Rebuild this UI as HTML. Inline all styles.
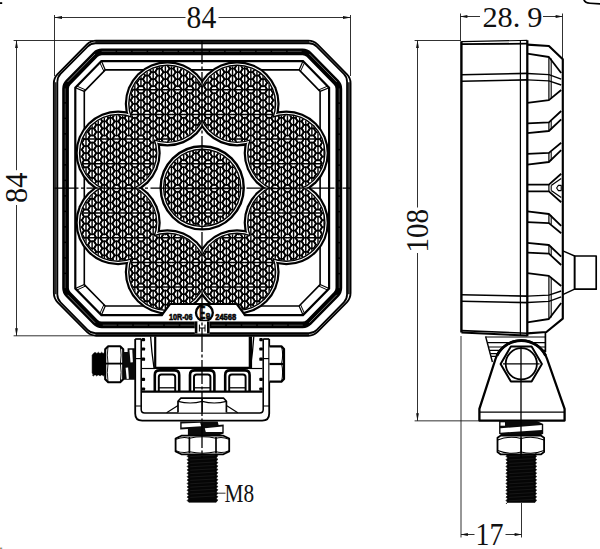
<!DOCTYPE html>
<html lang="en"><head><meta charset="utf-8"><title>LED work light 84 x 84 x 28.9 dimension drawing</title>
<style>html,body{margin:0;padding:0;background:#fff;overflow:hidden}svg{display:block}text{font-family:"Liberation Serif","DejaVu Serif",serif;fill:#111;stroke:none}.b{font-family:"Liberation Sans","DejaVu Sans",sans-serif;font-weight:bold;stroke:#000;stroke-width:.6px}</style></head><body>
<svg width="600" height="549" viewBox="0 0 600 549" fill="none" stroke="#000" stroke-linecap="butt" stroke-linejoin="round">
<rect x="0" y="0" width="600" height="549" fill="#fff" stroke="none"/>
<defs>
<path id="hc" d="M-4.07 0 L-2.04 -3.52 L2.04 -3.52 L4.07 0 L2.04 3.52 L-2.04 3.52ZM-4.07 7.05 L-2.04 3.52 L2.04 3.52 L4.07 7.05 L2.04 10.57 L-2.04 10.57ZM-4.07 14.1 L-2.04 10.57 L2.04 10.57 L4.07 14.1 L2.04 17.62 L-2.04 17.62ZM-4.07 21.15 L-2.04 17.62 L2.04 17.62 L4.07 21.15 L2.04 24.67 L-2.04 24.67ZM-4.07 28.2 L-2.04 24.68 L2.04 24.68 L4.07 28.2 L2.04 31.72 L-2.04 31.72ZM-4.07 35.25 L-2.04 31.73 L2.04 31.73 L4.07 35.25 L2.04 38.77 L-2.04 38.77ZM-4.07 42.3 L-2.04 38.77 L2.04 38.77 L4.07 42.3 L2.04 45.82 L-2.04 45.82ZM-4.07 49.35 L-2.04 45.83 L2.04 45.83 L4.07 49.35 L2.04 52.88 L-2.04 52.88ZM-4.07 56.4 L-2.04 52.88 L2.04 52.88 L4.07 56.4 L2.04 59.92 L-2.04 59.92ZM-4.07 63.45 L-2.04 59.92 L2.04 59.92 L4.07 63.45 L2.04 66.97 L-2.04 66.97ZM-4.07 70.5 L-2.04 66.97 L2.04 66.97 L4.07 70.5 L2.04 74.03 L-2.04 74.03ZM-4.07 77.55 L-2.04 74.02 L2.04 74.02 L4.07 77.55 L2.04 81.08 L-2.04 81.08ZM-4.07 84.6 L-2.04 81.07 L2.04 81.07 L4.07 84.6 L2.04 88.12 L-2.04 88.12ZM-4.07 91.65 L-2.04 88.12 L2.04 88.12 L4.07 91.65 L2.04 95.17 L-2.04 95.17ZM-4.07 98.7 L-2.04 95.17 L2.04 95.17 L4.07 98.7 L2.04 102.23 L-2.04 102.23ZM-4.07 105.75 L-2.04 102.22 L2.04 102.22 L4.07 105.75 L2.04 109.28 L-2.04 109.28ZM-4.07 112.8 L-2.04 109.27 L2.04 109.27 L4.07 112.8 L2.04 116.33 L-2.04 116.33ZM-4.07 119.85 L-2.04 116.32 L2.04 116.32 L4.07 119.85 L2.04 123.38 L-2.04 123.38ZM-4.07 126.9 L-2.04 123.37 L2.04 123.37 L4.07 126.9 L2.04 130.42 L-2.04 130.42ZM-4.07 133.95 L-2.04 130.42 L2.04 130.42 L4.07 133.95 L2.04 137.47 L-2.04 137.47ZM-4.07 141 L-2.04 137.47 L2.04 137.47 L4.07 141 L2.04 144.53 L-2.04 144.53ZM-4.07 148.05 L-2.04 144.52 L2.04 144.52 L4.07 148.05 L2.04 151.57 L-2.04 151.57ZM-4.07 155.1 L-2.04 151.57 L2.04 151.57 L4.07 155.1 L2.04 158.62 L-2.04 158.62ZM-4.07 162.15 L-2.04 158.62 L2.04 158.62 L4.07 162.15 L2.04 165.68 L-2.04 165.68ZM-4.07 169.2 L-2.04 165.67 L2.04 165.67 L4.07 169.2 L2.04 172.72 L-2.04 172.72ZM-4.07 176.25 L-2.04 172.72 L2.04 172.72 L4.07 176.25 L2.04 179.78 L-2.04 179.78ZM-4.07 183.3 L-2.04 179.77 L2.04 179.77 L4.07 183.3 L2.04 186.82 L-2.04 186.82ZM-4.07 190.35 L-2.04 186.82 L2.04 186.82 L4.07 190.35 L2.04 193.88 L-2.04 193.88ZM-4.07 197.4 L-2.04 193.88 L2.04 193.88 L4.07 197.4 L2.04 200.93 L-2.04 200.93ZM-4.07 204.45 L-2.04 200.92 L2.04 200.92 L4.07 204.45 L2.04 207.97 L-2.04 207.97ZM-4.07 211.5 L-2.04 207.97 L2.04 207.97 L4.07 211.5 L2.04 215.03 L-2.04 215.03ZM-4.07 218.55 L-2.04 215.02 L2.04 215.02 L4.07 218.55 L2.04 222.07 L-2.04 222.07ZM-4.07 225.6 L-2.04 222.07 L2.04 222.07 L4.07 225.6 L2.04 229.12 L-2.04 229.12ZM-4.07 232.65 L-2.04 229.12 L2.04 229.12 L4.07 232.65 L2.04 236.18 L-2.04 236.18ZM-4.07 239.7 L-2.04 236.17 L2.04 236.17 L4.07 239.7 L2.04 243.22 L-2.04 243.22ZM-4.07 246.75 L-2.04 243.22 L2.04 243.22 L4.07 246.75 L2.04 250.28 L-2.04 250.28ZM-4.07 253.8 L-2.04 250.27 L2.04 250.27 L4.07 253.8 L2.04 257.32 L-2.04 257.32ZM-4.07 260.85 L-2.04 257.32 L2.04 257.32 L4.07 260.85 L2.04 264.37 L-2.04 264.37ZM-4.07 267.9 L-2.04 264.38 L2.04 264.38 L4.07 267.9 L2.04 271.42 L-2.04 271.42ZM-4.07 274.95 L-2.04 271.43 L2.04 271.43 L4.07 274.95 L2.04 278.47 L-2.04 278.47ZM-4.07 282 L-2.04 278.48 L2.04 278.48 L4.07 282 L2.04 285.52 L-2.04 285.52ZM-4.07 289.05 L-2.04 285.53 L2.04 285.53 L4.07 289.05 L2.04 292.57 L-2.04 292.57ZM-4.07 296.1 L-2.04 292.57 L2.04 292.57 L4.07 296.1 L2.04 299.62 L-2.04 299.62Z" fill="none" stroke="#000" stroke-width="1.7" stroke-linejoin="miter"/>
<path id="hv" d="M0 -7.05 V303.15" fill="none" stroke="#000" stroke-width="1.42"/>
<g id="ld"><rect x="-1.1" y="-2.4" width="2.2" height="4.8" fill="#fff" stroke="none"/><path d="M-3.2 0H3.2" stroke="#000" stroke-width="1.5"/></g>
<clipPath id="fl">
<circle cx="286.27" cy="222.67" r="37.85"/>
<circle cx="237.02" cy="271.92" r="37.85"/>
<circle cx="167.38" cy="271.92" r="37.85"/>
<circle cx="118.13" cy="222.67" r="37.85"/>
<circle cx="118.13" cy="153.03" r="37.85"/>
<circle cx="167.38" cy="103.78" r="37.85"/>
<circle cx="237.02" cy="103.78" r="37.85"/>
<circle cx="286.27" cy="153.03" r="37.85"/>
<circle cx="202.2" cy="187.85" r="37.9"/>
</clipPath>
</defs>
<g id="front-housing">
<path d="M95.36 41.9 L309.04 41.9 M348.8 82.13 L348.8 294.21 M309.04 334.44 L95.36 334.44 M55.6 294.21 L55.6 82.13" fill="none" stroke-width="1.9" stroke="#2e2e2e"/>
<path d="M86.92 44.4 Q90.7 40.57 96.08 40.57 L308.32 40.57 Q313.7 40.57 317.48 44.4 L346.77 74.04 Q350.55 77.87 350.55 83.25 L350.55 293.09 Q350.55 298.47 346.77 302.3 L317.48 331.94 Q313.7 335.77 308.32 335.77 L96.08 335.77 Q90.7 335.77 86.92 331.94 L57.63 302.3 Q53.85 298.47 53.85 293.09 L53.85 83.25 Q53.85 77.87 57.63 74.04 Z" fill="none" stroke-width="1.85"/>
<path d="M87.6 46.51 Q90.8 43.27 95.36 43.27 L309.04 43.27 Q313.6 43.27 316.8 46.51 L343.85 73.93 Q347.05 77.17 347.05 81.73 L347.05 294.61 Q347.05 299.17 343.85 302.41 L316.8 329.83 Q313.6 333.07 309.04 333.07 L95.36 333.07 Q90.8 333.07 87.6 329.83 L60.55 302.41 Q57.35 299.17 57.35 294.61 L57.35 81.73 Q57.35 77.17 60.55 73.93 Z" fill="none" stroke-width="1.8"/>
<path d="M95.44 54.51 Q98.05 51.85 101.78 51.85 L302.62 51.85 Q306.35 51.85 308.96 54.51 L336.24 82.31 Q338.85 84.97 338.85 88.7 L338.85 288.04 Q338.85 291.77 336.24 294.43 L308.96 322.23 Q306.35 324.89 302.62 324.89 L101.78 324.89 Q98.05 324.89 95.44 322.23 L68.16 294.43 Q65.55 291.77 65.55 288.04 L65.55 88.7 Q65.55 84.97 68.16 82.31 Z" fill="none" stroke-width="6.7"/>
<path d="M101.63 51.37 L302.77 51.37 M339.2 88.4 L339.2 288.14 M302.77 325.17 L101.63 325.17 M65.2 288.14 L65.2 88.4" fill="none" stroke-width="0.5" stroke="#8c8c8c" stroke-dasharray="14 1.5"/>
<path d="M309.31 53.93 L336.79 81.91 M336.79 294.83 L309.31 322.81 M95.09 322.81 L67.61 294.83 M67.61 81.91 L95.09 53.93" fill="none" stroke-width="0.6" stroke="#bdbdbd"/>
<path d="M101.4 61.1 L303 61.1 L329.1 87.7 L329.1 288.5 L303 315.1 L245 315.1 L236.8 304 L170 304 L161.8 315.1 L101.4 315.1 L75.3 288.5 L75.3 87.7 Z" fill="none" stroke-width="2.2" stroke-linejoin="miter"/>
<path d="M105.3 69.9 L299.1 69.9 L320.1 91.35 L320.1 284.55 L299.1 306 L105.3 306 L84.3 284.55 L84.3 91.35 Z" fill="none" stroke-width="1.6" stroke-linejoin="miter"/>
<line x1="101.4" y1="61.1" x2="105.3" y2="69.9" stroke-width="1.2"/>
<line x1="99.86" y1="62.67" x2="103.9" y2="71.33" stroke-width="1"/>
<line x1="303" y1="61.1" x2="299.1" y2="69.9" stroke-width="1.2"/>
<line x1="304.54" y1="62.67" x2="300.5" y2="71.33" stroke-width="1"/>
<line x1="329.1" y1="87.7" x2="320.1" y2="91.35" stroke-width="1.2"/>
<line x1="327.56" y1="86.13" x2="318.7" y2="89.92" stroke-width="1"/>
<line x1="329.1" y1="288.5" x2="320.1" y2="284.55" stroke-width="1.2"/>
<line x1="327.56" y1="290.07" x2="318.7" y2="285.98" stroke-width="1"/>
<line x1="303" y1="315.1" x2="299.1" y2="306" stroke-width="1.2"/>
<line x1="304.54" y1="313.53" x2="300.5" y2="304.57" stroke-width="1"/>
<line x1="101.4" y1="315.1" x2="105.3" y2="306" stroke-width="1.2"/>
<line x1="99.86" y1="313.53" x2="103.9" y2="304.57" stroke-width="1"/>
<line x1="75.3" y1="288.5" x2="84.3" y2="284.55" stroke-width="1.2"/>
<line x1="76.84" y1="290.07" x2="85.7" y2="285.98" stroke-width="1"/>
<line x1="75.3" y1="87.7" x2="84.3" y2="91.35" stroke-width="1.2"/>
<line x1="76.84" y1="86.13" x2="85.7" y2="89.92" stroke-width="1"/>
</g>
<g id="lens">
<circle cx="286.27" cy="222.67" r="42.6" fill="#000" stroke="none"/>
<circle cx="237.02" cy="271.92" r="42.6" fill="#000" stroke="none"/>
<circle cx="167.38" cy="271.92" r="42.6" fill="#000" stroke="none"/>
<circle cx="118.13" cy="222.67" r="42.6" fill="#000" stroke="none"/>
<circle cx="118.13" cy="153.03" r="42.6" fill="#000" stroke="none"/>
<circle cx="167.38" cy="103.78" r="42.6" fill="#000" stroke="none"/>
<circle cx="237.02" cy="103.78" r="42.6" fill="#000" stroke="none"/>
<circle cx="286.27" cy="153.03" r="42.6" fill="#000" stroke="none"/>
<circle cx="286.27" cy="222.67" r="40.4" fill="#fff" stroke="none"/>
<circle cx="237.02" cy="271.92" r="40.4" fill="#fff" stroke="none"/>
<circle cx="167.38" cy="271.92" r="40.4" fill="#fff" stroke="none"/>
<circle cx="118.13" cy="222.67" r="40.4" fill="#fff" stroke="none"/>
<circle cx="118.13" cy="153.03" r="40.4" fill="#fff" stroke="none"/>
<circle cx="167.38" cy="103.78" r="40.4" fill="#fff" stroke="none"/>
<circle cx="237.02" cy="103.78" r="40.4" fill="#fff" stroke="none"/>
<circle cx="286.27" cy="153.03" r="40.4" fill="#fff" stroke="none"/>
<circle cx="286.27" cy="222.67" r="39.3" fill="#000" stroke="none"/>
<circle cx="237.02" cy="271.92" r="39.3" fill="#000" stroke="none"/>
<circle cx="167.38" cy="271.92" r="39.3" fill="#000" stroke="none"/>
<circle cx="118.13" cy="222.67" r="39.3" fill="#000" stroke="none"/>
<circle cx="118.13" cy="153.03" r="39.3" fill="#000" stroke="none"/>
<circle cx="167.38" cy="103.78" r="39.3" fill="#000" stroke="none"/>
<circle cx="237.02" cy="103.78" r="39.3" fill="#000" stroke="none"/>
<circle cx="286.27" cy="153.03" r="39.3" fill="#000" stroke="none"/>
<circle cx="202.2" cy="187.85" r="41.55" fill="#fff" stroke-width="2.4"/>
<circle cx="202.2" cy="187.85" r="39.3" fill="#000" stroke="none"/>
<g clip-path="url(#fl)">
<rect x="70" y="55" width="266" height="266" fill="#fff" stroke="none"/>
<use href="#hc" x="61.58" y="43.88"/>
<use href="#hv" x="61.58" y="43.88"/>
<use href="#hc" x="67.69" y="40.35"/>
<use href="#hv" x="67.69" y="40.35"/>
<use href="#hc" x="73.79" y="43.88"/>
<use href="#hv" x="73.79" y="43.88"/>
<use href="#hc" x="79.9" y="40.35"/>
<use href="#hv" x="79.9" y="40.35"/>
<use href="#hc" x="86" y="43.88"/>
<use href="#hv" x="86" y="43.88"/>
<use href="#hc" x="92.11" y="40.35"/>
<use href="#hv" x="92.11" y="40.35"/>
<use href="#hc" x="98.21" y="43.88"/>
<use href="#hv" x="98.21" y="43.88"/>
<use href="#hc" x="104.32" y="40.35"/>
<use href="#hv" x="104.32" y="40.35"/>
<use href="#hc" x="110.42" y="43.88"/>
<use href="#hv" x="110.42" y="43.88"/>
<use href="#hc" x="116.53" y="40.35"/>
<use href="#hv" x="116.53" y="40.35"/>
<use href="#hc" x="122.63" y="43.88"/>
<use href="#hv" x="122.63" y="43.88"/>
<use href="#hc" x="128.74" y="40.35"/>
<use href="#hv" x="128.74" y="40.35"/>
<use href="#hc" x="134.84" y="43.88"/>
<use href="#hv" x="134.84" y="43.88"/>
<use href="#hc" x="140.95" y="40.35"/>
<use href="#hv" x="140.95" y="40.35"/>
<use href="#hc" x="147.06" y="43.88"/>
<use href="#hv" x="147.06" y="43.88"/>
<use href="#hc" x="153.16" y="40.35"/>
<use href="#hv" x="153.16" y="40.35"/>
<use href="#hc" x="159.26" y="43.88"/>
<use href="#hv" x="159.26" y="43.88"/>
<use href="#hc" x="165.37" y="40.35"/>
<use href="#hv" x="165.37" y="40.35"/>
<use href="#hc" x="171.47" y="43.88"/>
<use href="#hv" x="171.47" y="43.88"/>
<use href="#hc" x="177.58" y="40.35"/>
<use href="#hv" x="177.58" y="40.35"/>
<use href="#hc" x="183.69" y="43.88"/>
<use href="#hv" x="183.69" y="43.88"/>
<use href="#hc" x="189.79" y="40.35"/>
<use href="#hv" x="189.79" y="40.35"/>
<use href="#hc" x="195.9" y="43.88"/>
<use href="#hv" x="195.9" y="43.88"/>
<use href="#hc" x="202" y="40.35"/>
<use href="#hv" x="202" y="40.35"/>
<use href="#hc" x="208.1" y="43.88"/>
<use href="#hv" x="208.1" y="43.88"/>
<use href="#hc" x="214.21" y="40.35"/>
<use href="#hv" x="214.21" y="40.35"/>
<use href="#hc" x="220.31" y="43.88"/>
<use href="#hv" x="220.31" y="43.88"/>
<use href="#hc" x="226.42" y="40.35"/>
<use href="#hv" x="226.42" y="40.35"/>
<use href="#hc" x="232.53" y="43.88"/>
<use href="#hv" x="232.53" y="43.88"/>
<use href="#hc" x="238.63" y="40.35"/>
<use href="#hv" x="238.63" y="40.35"/>
<use href="#hc" x="244.74" y="43.88"/>
<use href="#hv" x="244.74" y="43.88"/>
<use href="#hc" x="250.84" y="40.35"/>
<use href="#hv" x="250.84" y="40.35"/>
<use href="#hc" x="256.94" y="43.88"/>
<use href="#hv" x="256.94" y="43.88"/>
<use href="#hc" x="263.05" y="40.35"/>
<use href="#hv" x="263.05" y="40.35"/>
<use href="#hc" x="269.15" y="43.88"/>
<use href="#hv" x="269.15" y="43.88"/>
<use href="#hc" x="275.26" y="40.35"/>
<use href="#hv" x="275.26" y="40.35"/>
<use href="#hc" x="281.37" y="43.88"/>
<use href="#hv" x="281.37" y="43.88"/>
<use href="#hc" x="287.47" y="40.35"/>
<use href="#hv" x="287.47" y="40.35"/>
<use href="#hc" x="293.57" y="43.88"/>
<use href="#hv" x="293.57" y="43.88"/>
<use href="#hc" x="299.68" y="40.35"/>
<use href="#hv" x="299.68" y="40.35"/>
<use href="#hc" x="305.79" y="43.88"/>
<use href="#hv" x="305.79" y="43.88"/>
<use href="#hc" x="311.89" y="40.35"/>
<use href="#hv" x="311.89" y="40.35"/>
<use href="#hc" x="318" y="43.88"/>
<use href="#hv" x="318" y="43.88"/>
<use href="#hc" x="324.1" y="40.35"/>
<use href="#hv" x="324.1" y="40.35"/>
<use href="#hc" x="330.21" y="43.88"/>
<use href="#hv" x="330.21" y="43.88"/>
<use href="#hc" x="336.31" y="40.35"/>
<use href="#hv" x="336.31" y="40.35"/>
<use href="#hc" x="342.42" y="43.88"/>
<use href="#hv" x="342.42" y="43.88"/>
<use href="#ld" x="86" y="163.73"/>
<use href="#ld" x="86" y="213.08"/>
<use href="#ld" x="92.11" y="139.05"/>
<use href="#ld" x="92.11" y="237.75"/>
<use href="#ld" x="98.21" y="163.73"/>
<use href="#ld" x="98.21" y="213.08"/>
<use href="#ld" x="104.32" y="139.05"/>
<use href="#ld" x="104.32" y="237.75"/>
<use href="#ld" x="110.42" y="163.73"/>
<use href="#ld" x="110.42" y="213.08"/>
<use href="#ld" x="116.53" y="139.05"/>
<use href="#ld" x="116.53" y="188.4"/>
<use href="#ld" x="116.53" y="237.75"/>
<use href="#ld" x="122.63" y="163.73"/>
<use href="#ld" x="122.63" y="213.08"/>
<use href="#ld" x="128.74" y="139.05"/>
<use href="#ld" x="128.74" y="188.4"/>
<use href="#ld" x="128.74" y="237.75"/>
<use href="#ld" x="134.84" y="114.38"/>
<use href="#ld" x="134.84" y="163.73"/>
<use href="#ld" x="134.84" y="213.08"/>
<use href="#ld" x="134.84" y="262.43"/>
<use href="#ld" x="140.95" y="89.7"/>
<use href="#ld" x="140.95" y="139.05"/>
<use href="#ld" x="140.95" y="237.75"/>
<use href="#ld" x="140.95" y="287.1"/>
<use href="#ld" x="147.06" y="114.38"/>
<use href="#ld" x="147.06" y="163.73"/>
<use href="#ld" x="147.06" y="213.08"/>
<use href="#ld" x="147.06" y="262.43"/>
<use href="#ld" x="153.16" y="89.7"/>
<use href="#ld" x="153.16" y="287.1"/>
<use href="#ld" x="159.26" y="114.38"/>
<use href="#ld" x="159.26" y="262.43"/>
<use href="#ld" x="165.37" y="89.7"/>
<use href="#ld" x="165.37" y="139.05"/>
<use href="#ld" x="165.37" y="237.75"/>
<use href="#ld" x="165.37" y="287.1"/>
<use href="#ld" x="171.47" y="114.38"/>
<use href="#ld" x="171.47" y="262.43"/>
<use href="#ld" x="177.58" y="89.7"/>
<use href="#ld" x="177.58" y="188.4"/>
<use href="#ld" x="177.58" y="237.75"/>
<use href="#ld" x="177.58" y="287.1"/>
<use href="#ld" x="183.69" y="114.38"/>
<use href="#ld" x="183.69" y="163.73"/>
<use href="#ld" x="183.69" y="213.08"/>
<use href="#ld" x="183.69" y="262.43"/>
<use href="#ld" x="189.79" y="89.7"/>
<use href="#ld" x="189.79" y="188.4"/>
<use href="#ld" x="189.79" y="287.1"/>
<use href="#ld" x="195.9" y="114.38"/>
<use href="#ld" x="195.9" y="163.73"/>
<use href="#ld" x="195.9" y="213.08"/>
<use href="#ld" x="195.9" y="262.43"/>
<use href="#ld" x="202" y="188.4"/>
<use href="#ld" x="208.1" y="114.38"/>
<use href="#ld" x="208.1" y="163.73"/>
<use href="#ld" x="208.1" y="213.08"/>
<use href="#ld" x="208.1" y="262.43"/>
<use href="#ld" x="214.21" y="89.7"/>
<use href="#ld" x="214.21" y="188.4"/>
<use href="#ld" x="214.21" y="287.1"/>
<use href="#ld" x="220.31" y="114.38"/>
<use href="#ld" x="220.31" y="163.73"/>
<use href="#ld" x="220.31" y="213.08"/>
<use href="#ld" x="220.31" y="262.43"/>
<use href="#ld" x="226.42" y="89.7"/>
<use href="#ld" x="226.42" y="188.4"/>
<use href="#ld" x="226.42" y="237.75"/>
<use href="#ld" x="226.42" y="287.1"/>
<use href="#ld" x="232.53" y="114.38"/>
<use href="#ld" x="232.53" y="262.43"/>
<use href="#ld" x="238.63" y="89.7"/>
<use href="#ld" x="238.63" y="139.05"/>
<use href="#ld" x="238.63" y="237.75"/>
<use href="#ld" x="238.63" y="287.1"/>
<use href="#ld" x="244.74" y="114.38"/>
<use href="#ld" x="244.74" y="262.43"/>
<use href="#ld" x="250.84" y="89.7"/>
<use href="#ld" x="250.84" y="287.1"/>
<use href="#ld" x="256.94" y="114.38"/>
<use href="#ld" x="256.94" y="163.73"/>
<use href="#ld" x="256.94" y="213.08"/>
<use href="#ld" x="256.94" y="262.43"/>
<use href="#ld" x="263.05" y="89.7"/>
<use href="#ld" x="263.05" y="139.05"/>
<use href="#ld" x="263.05" y="237.75"/>
<use href="#ld" x="263.05" y="287.1"/>
<use href="#ld" x="269.15" y="114.38"/>
<use href="#ld" x="269.15" y="163.73"/>
<use href="#ld" x="269.15" y="213.08"/>
<use href="#ld" x="269.15" y="262.43"/>
<use href="#ld" x="275.26" y="139.05"/>
<use href="#ld" x="275.26" y="188.4"/>
<use href="#ld" x="275.26" y="237.75"/>
<use href="#ld" x="281.37" y="163.73"/>
<use href="#ld" x="281.37" y="213.08"/>
<use href="#ld" x="287.47" y="139.05"/>
<use href="#ld" x="287.47" y="188.4"/>
<use href="#ld" x="287.47" y="237.75"/>
<use href="#ld" x="293.57" y="163.73"/>
<use href="#ld" x="293.57" y="213.08"/>
<use href="#ld" x="299.68" y="139.05"/>
<use href="#ld" x="299.68" y="237.75"/>
<use href="#ld" x="305.79" y="163.73"/>
<use href="#ld" x="305.79" y="213.08"/>
<use href="#ld" x="311.89" y="139.05"/>
<use href="#ld" x="311.89" y="237.75"/>
<use href="#ld" x="318" y="163.73"/>
<use href="#ld" x="318" y="213.08"/>
</g>
</g>
<g id="marks">
<path d="M244.1 315.3 L236.8 304 L170 304 L162.7 315.3 Z" fill="#fff" stroke-width="0" stroke="none"/>
<path d="M245 315.1 L236.8 304 L170 304 L161.8 315.1" fill="none" stroke-width="2.2" stroke-linejoin="miter"/>
<text class="b" x="169.0" y="319.7" font-size="8.8" textLength="23.6" lengthAdjust="spacingAndGlyphs">10R-06</text>
<text class="b" x="215.2" y="319.7" font-size="8.8" textLength="21" lengthAdjust="spacingAndGlyphs">24568</text>
<circle cx="204.4" cy="312.8" r="8.4" fill="#fff" stroke-width="2.3"/>
<text class="b"><tspan x="199.2" y="319.2" font-size="17.6" textLength="6.2" lengthAdjust="spacingAndGlyphs">E</tspan><tspan x="205.7" y="318.5" font-size="9.6" textLength="4.6" lengthAdjust="spacingAndGlyphs">9</tspan></text>
<rect x="194.8" y="321.2" width="14.8" height="12.4" fill="#fff" stroke="none"/>
<line x1="196.1" y1="321.4" x2="196.1" y2="333.4" stroke-width="2.6"/>
<line x1="208.3" y1="321.4" x2="208.3" y2="333.4" stroke-width="2.6"/>
<line x1="199.4" y1="324.6" x2="199.4" y2="331.6" stroke-width="1"/>
<line x1="205" y1="324.6" x2="205" y2="331.6" stroke-width="1"/>
<line x1="199.4" y1="328" x2="205" y2="328" stroke-width="1"/>
</g>
<g id="front-bracket" transform="translate(0 0)">
<path d="M135.2 339 V413.5 Q135.2 420.6 142.2 420.6 H262.2 Q269.2 420.6 269.2 413.5 V339" stroke-width="1.82"/>
<path d="M141.2 339 V409.5 Q141.2 413 144.7 413 H259.7 Q263.2 413 263.2 409.5 V339" stroke-width="1.56"/>
<line x1="135.2" y1="339" x2="141.2" y2="339" stroke-width="1.69"/>
<line x1="263.2" y1="339" x2="269.2" y2="339" stroke-width="1.69"/>
<line x1="135.2" y1="406" x2="141.2" y2="406" stroke-width="1.04"/>
<line x1="263.2" y1="406" x2="269.2" y2="406" stroke-width="1.04"/>
<line x1="135.2" y1="358.6" x2="141.2" y2="358.6" stroke-width="1.17"/>
<line x1="263.2" y1="358.6" x2="269.2" y2="358.6" stroke-width="1.17"/>
<rect x="141.6" y="338" width="3.5" height="3.2" rx="0.9" fill="#000" stroke="none"/>
<rect x="141.6" y="347.4" width="3.5" height="3.2" rx="0.9" fill="#000" stroke="none"/>
<rect x="141.6" y="357.6" width="3.5" height="3.2" rx="0.9" fill="#000" stroke="none"/>
<rect x="141.6" y="377.8" width="3.5" height="3.2" rx="0.9" fill="#000" stroke="none"/>
<rect x="141.6" y="387.4" width="3.5" height="3.2" rx="0.9" fill="#000" stroke="none"/>
<line x1="155.2" y1="336.5" x2="155.2" y2="368" stroke-width="2.21"/>
<path d="M150.6 336.5 Q151.6 352 154 368" stroke-width="1.3"/>
<line x1="142" y1="368.5" x2="155.2" y2="368.5" stroke-width="1.17"/>
<rect x="259.3" y="338" width="3.5" height="3.2" rx="0.9" fill="#000" stroke="none"/>
<rect x="259.3" y="347.4" width="3.5" height="3.2" rx="0.9" fill="#000" stroke="none"/>
<rect x="259.3" y="357.6" width="3.5" height="3.2" rx="0.9" fill="#000" stroke="none"/>
<rect x="259.3" y="377.8" width="3.5" height="3.2" rx="0.9" fill="#000" stroke="none"/>
<rect x="259.3" y="387.4" width="3.5" height="3.2" rx="0.9" fill="#000" stroke="none"/>
<line x1="250.4" y1="336.5" x2="250.4" y2="368" stroke-width="3.38"/>
<path d="M253.8 336.5 Q252.8 352 250.4 368" stroke-width="1.3"/>
<line x1="262.4" y1="368.5" x2="249.2" y2="368.5" stroke-width="1.17"/>
<line x1="154.4" y1="367.9" x2="250" y2="367.9" stroke-width="2.21"/>
<path d="M154.8 391 V375 Q154.8 370.4 159.4 370.4 H174.6 Q179.2 370.4 179.2 375 V391" stroke-width="2.6"/>
<path d="M158.8 391 V377 Q158.8 374.4 161.4 374.4 H172.6 Q175.2 374.4 175.2 377 V391" stroke-width="1.95"/>
<line x1="158.8" y1="387.8" x2="175.2" y2="387.8" stroke-width="1.3"/>
<path d="M190 391 V375 Q190 370.4 194.6 370.4 H209.8 Q214.4 370.4 214.4 375 V391" stroke-width="2.6"/>
<path d="M194 391 V377 Q194 374.4 196.6 374.4 H207.8 Q210.4 374.4 210.4 377 V391" stroke-width="1.95"/>
<line x1="194" y1="387.8" x2="210.4" y2="387.8" stroke-width="1.3"/>
<path d="M225.2 391 V375 Q225.2 370.4 229.8 370.4 H245 Q249.6 370.4 249.6 375 V391" stroke-width="2.6"/>
<path d="M229.2 391 V377 Q229.2 374.4 231.8 374.4 H243 Q245.6 374.4 245.6 377 V391" stroke-width="1.95"/>
<line x1="229.2" y1="387.8" x2="245.6" y2="387.8" stroke-width="1.3"/>
<line x1="141.8" y1="391.6" x2="262.6" y2="391.6" stroke-width="2.08"/>
<path d="M178 412.6 V401.2 L180.7 398.2 H223.7 L226.4 401.2 V412.6" stroke-width="1.69" fill="#fff"/>
<path d="M178 401.4 Q190.2 404.6 202.2 401.4 Q214.2 404.6 226.4 401.4" stroke-width="1.17"/>
<line x1="202.2" y1="398.2" x2="202.2" y2="412.6" stroke-width="1.3"/>
<line x1="166.6" y1="412.8" x2="178" y2="405.6" stroke-width="1.17"/>
<line x1="237.8" y1="412.8" x2="226.4" y2="405.6" stroke-width="1.17"/>
<path d="M92.1 355.2 L93.4 353.4 L93.9 353.2 L95.05 352.2 L96.2 353.2 L97.2 353.2 L98.35 352.2 L99.5 353.2 L100.5 353.2 L101.65 352.2 L102.8 353.2 L103.8 353.2 L104.95 352.2 L106.1 353.2 L106 353.2 L106 375 L104.5 375 L103.35 376 L102.2 375 L101.2 375 L100.05 376 L98.9 375 L97.9 375 L96.75 376 L95.6 375 L94.6 375 L93.45 376 L92.3 375 L93.4 374.8 L92.1 373 Z" fill="#000" stroke-width="0.52"/>
<path d="M105.2 349.2 L108.2 346.3 H120.2 L123.2 349.2 V379.2 L120.2 382.2 H108.2 L105.2 379.2 Z" stroke-width="2.1" fill="#fff"/>
<line x1="105.2" y1="363.6" x2="123.2" y2="363.6" stroke-width="1.82"/>
<path d="M108 346.8 Q106.6 355 108 363.6 Q106.6 372 108 381.8" stroke-width="0.9"/>
<path d="M120.4 346.8 Q121.8 355 120.4 363.6 Q121.8 372 120.4 381.8" stroke-width="0.9"/>
<path d="M123.4 352 H127.6 V348.3 H135 V379.7 H123.4 Z" fill="#0a0a0a" stroke="none"/>
<path d="M129.4 349.8 H132.3 L132.9 362.2 L130.5 362.4 Z" fill="#fff" stroke="none"/>
<path d="M125.6 367.7 L128.1 367.4 L128.9 378.8 L126.7 379 Z" fill="#fff" stroke="none"/>
<path d="M269.4 346.4 H281.4 L284 349 V379 L281.4 381.6 H269.4" stroke-width="2.2" fill="#fff"/>
<line x1="269.4" y1="364" x2="284.2" y2="364" stroke-width="2.21"/>
<path d="M281.6 346.4 Q283.6 355 281.6 363.6 Q283.6 372 281.6 381.8" stroke-width="1.04"/>
<path d="M180.2 421.4 H217.7 L218.6 425 L223.7 424.6 V433.4 L218 435.8 H187.9 V429 L180.2 429.4 Z" fill="#0a0a0a" stroke="none"/>
<path d="M181.6 423.4 L200.2 422.7 L201.2 426.2 L181.6 427.5 Z" fill="#fff" stroke="none"/>
<path d="M204.8 428.2 L222.3 426.5 V432 H205.8 Z" fill="#fff" stroke="none"/>
<path d="M181.4 435.7 H223.4 L229.2 438.5 V451.4 L223.4 454.3 H181.4 L175.6 451.4 V438.5 Z" fill="#fff" stroke-width="1.82"/>
<line x1="189.4" y1="437" x2="189.4" y2="453.2" stroke-width="1.69"/>
<line x1="216" y1="437" x2="216" y2="453.2" stroke-width="1.69"/>
<path d="M176 439.4 Q182.6 436.2 189.4 438.2 Q202.6 435.4 216 438.2 Q222.6 436.2 229 439.4" stroke-width="1.04"/>
<path d="M176 450.6 Q182.6 453.8 189.4 451.8 Q202.6 454.6 216 451.8 Q222.6 453.8 229 450.6" stroke-width="1.04"/>
<path d="M188.8 454.6 L187.2 456.3 L188.8 458 L187.2 459.7 L188.8 461.4 L187.2 463.1 L188.8 464.8 L187.2 466.5 L188.8 468.2 L187.2 469.9 L188.8 471.6 L187.2 473.3 L188.8 475 L187.2 476.7 L188.8 478.4 L187.2 480.1 L188.8 481.8 L187.2 483.5 L188.8 485.2 L187.2 486.9 L188.8 488.6 L187.2 490.3 L188.8 492 L187.2 493.7 L188.8 495.4 L187.2 497.1 L188.8 498.8 L187.2 500.5 L188.8 502.2 L216.2 502.2 L216.2 502.2 L217.8 499.9 L216.2 498.8 L217.8 496.5 L216.2 495.4 L217.8 493.1 L216.2 492 L217.8 489.7 L216.2 488.6 L217.8 486.3 L216.2 485.2 L217.8 482.9 L216.2 481.8 L217.8 479.5 L216.2 478.4 L217.8 476.1 L216.2 475 L217.8 472.7 L216.2 471.6 L217.8 469.3 L216.2 468.2 L217.8 465.9 L216.2 464.8 L217.8 462.5 L216.2 461.4 L217.8 459.1 L216.2 458 L217.8 455.7 L216.2 454.6 Z" fill="#050505" stroke-width="0.65"/>
<line x1="190.2" y1="456.6" x2="214.8" y2="455.2" stroke-width="0.39" stroke="#353535"/>
<line x1="190.2" y1="460" x2="214.8" y2="458.6" stroke-width="0.39" stroke="#353535"/>
<line x1="190.2" y1="463.4" x2="214.8" y2="462" stroke-width="0.39" stroke="#353535"/>
<line x1="190.2" y1="466.8" x2="214.8" y2="465.4" stroke-width="0.39" stroke="#353535"/>
<line x1="190.2" y1="470.2" x2="214.8" y2="468.8" stroke-width="0.39" stroke="#353535"/>
<line x1="190.2" y1="473.6" x2="214.8" y2="472.2" stroke-width="0.39" stroke="#353535"/>
<line x1="190.2" y1="477" x2="214.8" y2="475.6" stroke-width="0.39" stroke="#353535"/>
<line x1="190.2" y1="480.4" x2="214.8" y2="479" stroke-width="0.39" stroke="#353535"/>
<line x1="190.2" y1="483.8" x2="214.8" y2="482.4" stroke-width="0.39" stroke="#353535"/>
<line x1="190.2" y1="487.2" x2="214.8" y2="485.8" stroke-width="0.39" stroke="#353535"/>
<line x1="190.2" y1="490.6" x2="214.8" y2="489.2" stroke-width="0.39" stroke="#353535"/>
<line x1="190.2" y1="494" x2="214.8" y2="492.6" stroke-width="0.39" stroke="#353535"/>
<line x1="190.2" y1="497.4" x2="214.8" y2="496" stroke-width="0.39" stroke="#353535"/>
</g>
<g id="centre-lines" stroke-dasharray="24 2.5 3 2.5">
<line x1="202" y1="40" x2="202" y2="458" stroke-width="1.3"/>
<line x1="54.5" y1="188.2" x2="350.5" y2="188.2" stroke-width="1.2"/>
</g>
<line x1="217.4" y1="493.2" x2="225.5" y2="493.2" stroke-width="0.8"/>
<text x="224.6" y="501.6" font-size="26" textLength="29.6" lengthAdjust="spacingAndGlyphs">M8</text>
<g id="dimensions" stroke="#1a1a1a">
<line x1="54.5" y1="15" x2="54.5" y2="76" stroke-width="0.9"/>
<line x1="350.5" y1="15" x2="350.5" y2="76" stroke-width="0.9"/>
<line x1="54.5" y1="17.5" x2="185.5" y2="17.5" stroke-width="0.9"/>
<line x1="218.5" y1="17.5" x2="350.5" y2="17.5" stroke-width="0.9"/>
<path d="M54.2 17.5 L62 16.1 L62 18.9 Z" fill="#111" stroke="none"/>
<path d="M350.8 17.5 L343 18.9 L343 16.1 Z" fill="#111" stroke="none"/>
<text x="186.6" y="27.7" font-size="30.6" textLength="29.6" lengthAdjust="spacingAndGlyphs">84</text>
<line x1="13.6" y1="40.5" x2="94" y2="40.5" stroke-width="0.9"/>
<line x1="13.6" y1="335.8" x2="93" y2="335.8" stroke-width="0.9"/>
<line x1="16.5" y1="40.5" x2="16.5" y2="170.2" stroke-width="0.9"/>
<line x1="16.5" y1="205" x2="16.5" y2="335.8" stroke-width="0.9"/>
<path d="M16.5 40.2 L17.9 48 L15.1 48 Z" fill="#111" stroke="none"/>
<path d="M16.5 336.1 L15.1 328.3 L17.9 328.3 Z" fill="#111" stroke="none"/>
<text transform="translate(27.4 203) rotate(-90)" font-size="31.5" textLength="30.4" lengthAdjust="spacingAndGlyphs">84</text>
<line x1="414.6" y1="40.5" x2="461" y2="40.5" stroke-width="0.9"/>
<line x1="414.6" y1="420.85" x2="479.5" y2="420.85" stroke-width="0.9"/>
<line x1="417.5" y1="40.5" x2="417.5" y2="207.5" stroke-width="0.9"/>
<line x1="417.5" y1="253" x2="417.5" y2="420.85" stroke-width="0.9"/>
<path d="M417.5 40.2 L418.9 48 L416.1 48 Z" fill="#111" stroke="none"/>
<path d="M417.5 421.1 L416.1 413.3 L418.9 413.3 Z" fill="#111" stroke="none"/>
<text transform="translate(427.6 252.6) rotate(-90)" font-size="31" textLength="43.6" lengthAdjust="spacingAndGlyphs">108</text>
<line x1="460.5" y1="13.5" x2="460.5" y2="41" stroke-width="0.9"/>
<line x1="562.5" y1="13.5" x2="562.5" y2="58" stroke-width="0.9"/>
<line x1="460.5" y1="16.5" x2="480" y2="16.5" stroke-width="0.9"/>
<line x1="543" y1="16.5" x2="562.5" y2="16.5" stroke-width="0.9"/>
<path d="M460.2 16.5 L467.4 15.1 L467.4 17.9 Z" fill="#111" stroke="none"/>
<path d="M562.8 16.5 L555.6 17.9 L555.6 15.1 Z" fill="#111" stroke="none"/>
<text x="482.6 497.4 512.8 527.2" y="26.8" font-size="30.4">28.9</text>
<line x1="461" y1="336" x2="461" y2="537.5" stroke-width="0.9"/>
<line x1="521.5" y1="503" x2="521.5" y2="537.5" stroke-width="0.9"/>
<line x1="461" y1="534.5" x2="474.5" y2="534.5" stroke-width="0.9"/>
<line x1="505.5" y1="534.5" x2="521.5" y2="534.5" stroke-width="0.9"/>
<path d="M460.7 534.5 L467.9 533.1 L467.9 535.9 Z" fill="#111" stroke="none"/>
<path d="M521.8 534.5 L514.6 535.9 L514.6 533.1 Z" fill="#111" stroke="none"/>
<text x="475.6" y="544.9" font-size="30.6" textLength="28" lengthAdjust="spacingAndGlyphs">17</text>
</g>
<path d="M583.6 -1 Q584.6 3 590 3.2 L601 3.9" stroke-width="1.6"/>
<line x1="0" y1="3.1" x2="2.2" y2="3.1" stroke-width="1.8"/>
<rect x="0" y="547.6" width="1.2" height="1.4" fill="#d08a3a" stroke="none"/><rect x="1.2" y="547.6" width="1" height="1.4" fill="#4a8ac0" stroke="none"/>
<g id="side-view">
<line x1="461.4" y1="41.2" x2="461.4" y2="332.4" stroke-width="2.4"/>
<line x1="520.4" y1="40.4" x2="520.4" y2="335.5" stroke-width="1.2"/>
<line x1="527.3" y1="40.2" x2="527.3" y2="336.2" stroke-width="2.28"/>
<path d="M461.4 41.6 L520.4 40.5 L527.3 40.3" fill="none" stroke-width="1.2"/>
<path d="M461.4 44.2 L527.3 43.6" fill="none" stroke-width="1.8"/>
<path d="M461.4 74.7 L527.3 73.4" fill="none" stroke-width="1.56"/>
<path d="M461.4 81.3 L527.3 79.9" fill="none" stroke-width="1.56"/>
<path d="M461.4 301.3 L527.3 302.6" fill="none" stroke-width="1.56"/>
<path d="M461.4 294.7 L527.3 296.1" fill="none" stroke-width="1.56"/>
<path d="M461.4 330.6 L527.3 333.2" fill="none" stroke-width="1.56"/>
<path d="M461.4 332.6 L527.3 335.6" fill="none" stroke-width="2.04"/>
<path d="M527.3 44.6 L548.9 46 L562.8 59.2 L562.8 318.6 L546.4 332 L527.3 333.4" fill="none" stroke-width="2.16"/>
<path d="M527.3 53.7 L548.9 57 L561.2 73" fill="none" stroke-width="1.8"/>
<path d="M527.3 102.9 L548.9 100.1 L561.2 90" fill="none" stroke-width="1.8"/>
<line x1="548.9" y1="57" x2="548.9" y2="100.1" stroke-width="1.2"/>
<line x1="551.2" y1="58.5" x2="551.2" y2="99" stroke-width="1.08"/>
<path d="M527.3 73.5 L548.9 74.6 L561.2 79.2" fill="none" stroke-width="1.44"/>
<path d="M527.3 79.9 L548.9 80.9 L561.2 85" fill="none" stroke-width="1.44"/>
<path d="M527.3 123.4 L548.9 122.3 L561.2 111" fill="none" stroke-width="1.8"/>
<path d="M527.3 133.2 L548.9 131 L561.2 119.4" fill="none" stroke-width="1.8"/>
<line x1="548.9" y1="122.3" x2="548.9" y2="131" stroke-width="1.2"/>
<line x1="551.2" y1="121" x2="551.2" y2="129.4" stroke-width="1.08"/>
<path d="M527.3 153.8 L548.9 152.9 L561.2 142.8" fill="none" stroke-width="1.8"/>
<path d="M527.3 164.7 L548.9 162 L561.2 150.2" fill="none" stroke-width="1.8"/>
<line x1="548.9" y1="152.9" x2="548.9" y2="162" stroke-width="1.2"/>
<line x1="551.2" y1="151.6" x2="551.2" y2="160.4" stroke-width="1.08"/>
<path d="M527.3 184.6 L548.9 184.6 L561.2 173.8" fill="none" stroke-width="1.8"/>
<path d="M551.2 185.6 L561.2 178.4" fill="none" stroke-width="1.2"/>
<path d="M527.3 322.3 L548.9 319 L561.2 303" fill="none" stroke-width="1.8"/>
<path d="M527.3 273.1 L548.9 275.9 L561.2 286" fill="none" stroke-width="1.8"/>
<line x1="548.9" y1="319" x2="548.9" y2="275.9" stroke-width="1.2"/>
<line x1="551.2" y1="317.5" x2="551.2" y2="277" stroke-width="1.08"/>
<path d="M527.3 302.5 L548.9 301.4 L561.2 296.8" fill="none" stroke-width="1.44"/>
<path d="M527.3 296.1 L548.9 295.1 L561.2 291" fill="none" stroke-width="1.44"/>
<path d="M527.3 252.6 L548.9 253.7 L561.2 265" fill="none" stroke-width="1.8"/>
<path d="M527.3 242.8 L548.9 245 L561.2 256.6" fill="none" stroke-width="1.8"/>
<line x1="548.9" y1="253.7" x2="548.9" y2="245" stroke-width="1.2"/>
<line x1="551.2" y1="255" x2="551.2" y2="246.6" stroke-width="1.08"/>
<path d="M527.3 222.2 L548.9 223.1 L561.2 233.2" fill="none" stroke-width="1.8"/>
<path d="M527.3 211.3 L548.9 214 L561.2 225.8" fill="none" stroke-width="1.8"/>
<line x1="548.9" y1="223.1" x2="548.9" y2="214" stroke-width="1.2"/>
<line x1="551.2" y1="224.4" x2="551.2" y2="215.6" stroke-width="1.08"/>
<path d="M527.3 191.4 L548.9 191.4 L561.2 202.2" fill="none" stroke-width="1.8"/>
<path d="M551.2 190.4 L561.2 197.6" fill="none" stroke-width="1.2"/>
<line x1="548.9" y1="184.6" x2="548.9" y2="191.4" stroke-width="1.2"/>
<line x1="551.2" y1="185.6" x2="551.2" y2="190.4" stroke-width="1.08"/>
<path d="M556.6 188 L558.4 185.4 L561.2 185.4 L561.2 190.6 L558.4 190.6 Z" fill="none" stroke-width="1.08"/>
<path d="M562.8 250.8 L574.6 256 L574.6 289.2 L562.8 294.6" fill="none" stroke-width="1.44"/>
<path d="M574.6 256 L596.2 256 L596.2 289.2 L574.6 289.2 Z" fill="none" stroke-width="1.68"/>
<path d="M485.6 336.4 L492.4 362" fill="none" stroke-width="1.44"/>
<line x1="545.4" y1="332.5" x2="545.4" y2="352" stroke-width="1.68"/>
<line x1="485.8" y1="337" x2="545.4" y2="337" stroke-width="1.08"/>
<line x1="487.4" y1="342.6" x2="545.4" y2="342.6" stroke-width="1.08"/>
<line x1="488.5" y1="347" x2="545.4" y2="347" stroke-width="1.08"/>
<line x1="489.4" y1="350.4" x2="545.4" y2="350.4" stroke-width="1.08"/>
<line x1="490.2" y1="353.6" x2="545.4" y2="353.6" stroke-width="1.08"/>
<line x1="491" y1="356.4" x2="545.4" y2="356.4" stroke-width="1.08"/>
<path d="M479.4 420.6 V408.8 L495.5 359 A27.2 27.2 0 0 1 547.1 359 L564.6 408.8 V420.6 Z" fill="#fff" stroke-width="2.3"/>
<path d="M497 355.6 A27.2 27.2 0 0 1 545.6 355.6" stroke-width="2.8"/>
<line x1="479.4" y1="412.2" x2="564.6" y2="412.2" stroke-width="1.32"/>
<path d="M500.6 364 L510.9 346.4 L531.6 346.4 L541.9 364 L531.6 381.6 L510.9 381.6 Z" fill="#fff" stroke-width="1.98"/>
<circle cx="521.3" cy="363.8" r="15.6" stroke-width="1.8"/>
<line x1="503" y1="363.9" x2="539.6" y2="363.9" stroke-width="1.26"/>
<path d="M499.1 421 H537 L543.2 424 V433.7 L540 435.6 H502 L499.1 433.7 Z" fill="#0a0a0a" stroke="none"/>
<rect x="500.5" y="422.3" width="4.5" height="3.4" fill="#fff" stroke="none"/>
<path d="M500.5 428.3 L541.8 425.1 V430.1 L500.5 432.7 Z" fill="#fff" stroke="none"/>
<path d="M500.8 435.6 H540.8 L544.1 437.8 V452 L540.8 454.4 H500.8 L497.5 452 V437.8 Z" fill="#fff" stroke-width="1.82"/>
<line x1="521.2" y1="437.4" x2="521.2" y2="453.4" stroke-width="1.44"/>
<path d="M497.6 440 Q509.4 435.4 521.2 438.6 Q533 435.4 544 440" stroke-width="1.04"/>
<path d="M497.6 450.6 Q509.4 455.2 521.2 452 Q533 455.2 544 450.6" stroke-width="1.04"/>
<path d="M507.6 454.6 L506 456.3 L507.6 458 L506 459.7 L507.6 461.4 L506 463.1 L507.6 464.8 L506 466.5 L507.6 468.2 L506 469.9 L507.6 471.6 L506 473.3 L507.6 475 L506 476.7 L507.6 478.4 L506 480.1 L507.6 481.8 L506 483.5 L507.6 485.2 L506 486.9 L507.6 488.6 L506 490.3 L507.6 492 L506 493.7 L507.6 495.4 L506 497.1 L507.6 498.8 L506 500.5 L507.6 502.2 L506 503.9 L507.6 502.4 L535 502.4 L535 502.4 L536.6 500.1 L535 499 L536.6 496.7 L535 495.6 L536.6 493.3 L535 492.2 L536.6 489.9 L535 488.8 L536.6 486.5 L535 485.4 L536.6 483.1 L535 482 L536.6 479.7 L535 478.6 L536.6 476.3 L535 475.2 L536.6 472.9 L535 471.8 L536.6 469.5 L535 468.4 L536.6 466.1 L535 465 L536.6 462.7 L535 461.6 L536.6 459.3 L535 458.2 L536.6 455.9 L535 454.8 L536.6 452.5 L535 454.6 Z" fill="#050505" stroke-width="0.6"/>
<line x1="509" y1="456.6" x2="533.6" y2="455.2" stroke-width="0.36" stroke="#353535"/>
<line x1="509" y1="460" x2="533.6" y2="458.6" stroke-width="0.36" stroke="#353535"/>
<line x1="509" y1="463.4" x2="533.6" y2="462" stroke-width="0.36" stroke="#353535"/>
<line x1="509" y1="466.8" x2="533.6" y2="465.4" stroke-width="0.36" stroke="#353535"/>
<line x1="509" y1="470.2" x2="533.6" y2="468.8" stroke-width="0.36" stroke="#353535"/>
<line x1="509" y1="473.6" x2="533.6" y2="472.2" stroke-width="0.36" stroke="#353535"/>
<line x1="509" y1="477" x2="533.6" y2="475.6" stroke-width="0.36" stroke="#353535"/>
<line x1="509" y1="480.4" x2="533.6" y2="479" stroke-width="0.36" stroke="#353535"/>
<line x1="509" y1="483.8" x2="533.6" y2="482.4" stroke-width="0.36" stroke="#353535"/>
<line x1="509" y1="487.2" x2="533.6" y2="485.8" stroke-width="0.36" stroke="#353535"/>
<line x1="509" y1="490.6" x2="533.6" y2="489.2" stroke-width="0.36" stroke="#353535"/>
<line x1="509" y1="494" x2="533.6" y2="492.6" stroke-width="0.36" stroke="#353535"/>
<line x1="509" y1="497.4" x2="533.6" y2="496" stroke-width="0.36" stroke="#353535"/>
<line x1="509" y1="500.8" x2="533.6" y2="499.4" stroke-width="0.36" stroke="#353535"/>
<line x1="521" y1="346.4" x2="521" y2="458" stroke-width="1.32"/>
</g>
</svg></body></html>
